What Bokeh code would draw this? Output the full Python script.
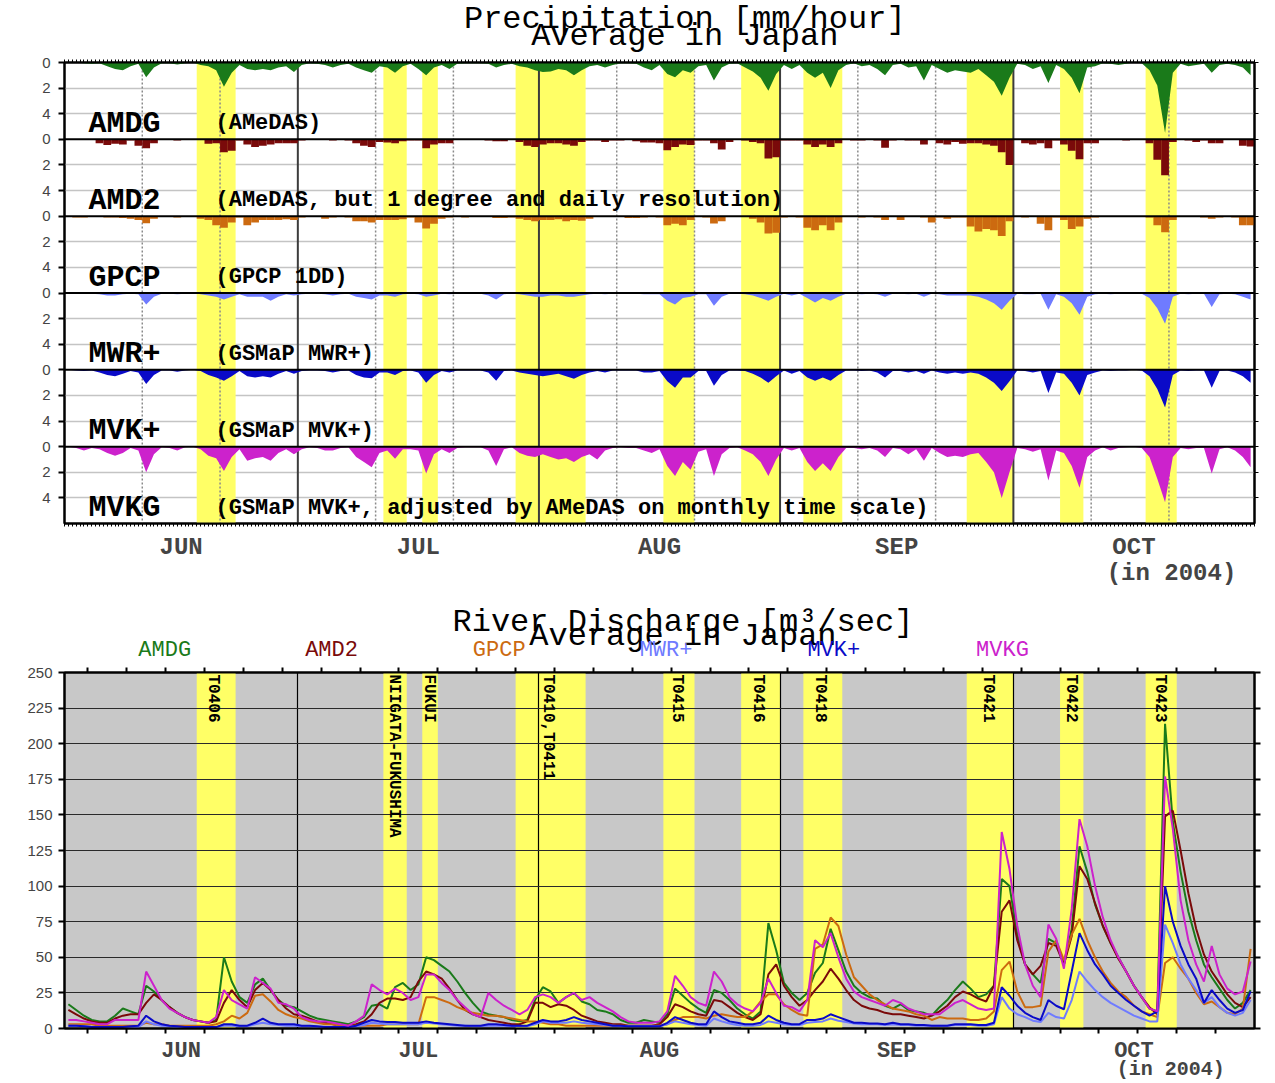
import numpy as np
from bokeh.plotting import figure
from bokeh.models import Range1d, FixedTicker, LinearAxis, Span, ColumnDataSource
from bokeh.layouts import column
from bokeh.embed import file_html
from bokeh.resources import INLINE
from bokeh.core.properties import value

# ------------------------------------------------------------------ data
n_days = 153  # 1 Jun .. 31 Oct 2004, day index 0 = 1 Jun
month_names = ["JUN", "JUL", "AUG", "SEP", "OCT"]
month_mid = [15, 45.5, 76.5, 107, 137.5]
month_start = [30, 61, 92, 122]
dekad_days = [10, 20, 40, 50, 71, 81, 102, 112, 132, 142]
pentad_ticks = list(range(3, 153, 5))
year_label = "(in 2004)"

event_names = ["T0406", "NIIGATA-FUKUSHIMA", "FUKUI", "T0410,T0411", "T0415",
               "T0416", "T0418", "T0421", "T0422", "T0423"]
event_start = [17, 41, 46, 58, 77, 87, 95, 116, 128, 139]
event_end = [22, 44, 48, 67, 81, 92, 100, 122, 131, 143]
event_label_day = [19.1, 42.3, 46.8, 62.1, 78.8, 89.1, 97.1, 118.7, 129.4, 140.8]

series_names = ["AMDG", "AMD2", "GPCP", "MWR+", "MVK+", "MVKG"]
series_desc = ["(AMeDAS)",
               "(AMeDAS, but 1 degree and daily resolution)",
               "(GPCP 1DD)",
               "(GSMaP MWR+)",
               "(GSMaP MVK+)",
               "(GSMaP MVK+, adjusted by AMeDAS on monthly time scale)"]
series_colors = ["#1A7A1A", "#7A0A0A", "#CC6A10", "#6F7BFF", "#0A0AC8", "#CC22CC"]

# precipitation [mm/hour], daily
prec_amdg = [
    0, 0, 0.05, 0.1, 0.05, 0.3, 0.5, 0.6, 0.3, 0.1,
    1.15, 0.4, 0.05, 0.05, 0.15, 0.05, 0, 0.2, 0.3, 0.6,
    1.9, 0.8, 0.2, 0.5, 0.6, 0.5, 0.6, 0.4, 0.3, 0.75,
    0.2, 0.05, 0.1, 0.2, 0.4, 0.2, 0.1, 0.4, 0.6, 0.8,
    0.3, 0.4, 0.8, 0.3, 0.1, 0.5, 1.0, 0.4, 0.2, 0.5,
    0.1, 0.05, 0.05, 0.05, 0.1, 0.4, 0.2, 0.1, 0.3, 0.4,
    0.6, 0.75, 0.7, 0.5, 0.6, 1.0, 0.6, 0.3, 0.2, 0.4,
    0.2, 0.05, 0.05, 0.1, 0.4, 0.6, 0.2, 0.9, 1.15, 0.6,
    0.8, 0.3, 0.2, 1.4, 0.4, 0.1, 0.05, 0.4, 0.7, 1.2,
    2.2, 0.9, 0.2, 0.5, 0.2, 0.8, 1.2, 0.8, 2.0, 0.6,
    0.2, 0.05, 0.3, 0.2, 0.5, 1.0, 0.2, 0.1, 0.4, 0.3,
    1.4, 0.2, 0.5, 0.8, 0.6, 0.7, 0.8, 0.5, 1.0, 1.5,
    2.6, 1.2, 0.1, 0.2, 0.5, 0.3, 1.6, 0.2, 0.5, 1.2,
    2.4, 0.4, 0.3, 0.05, 0.1, 0.2, 0.1, 0, 0.05, 0.6,
    1.8, 5.5, 0.8, 0.1, 0.3, 0.2, 0.1, 0.8, 0.2, 0.1,
    0.2, 0.4, 1.0]
prec_amd2 = [
    0, 0.05, 0.05, 0.05, 0.3, 0.45, 0.35, 0.4, 0.1, 0.5,
    0.7, 0.3, 0.05, 0.05, 0.1, 0.05, 0, 0.05, 0.35, 0.3,
    1.0, 0.9, 0.1, 0.4, 0.6, 0.5, 0.4, 0.3, 0.3, 0.3,
    0.1, 0.05, 0.05, 0.05, 0.1, 0.05, 0.1, 0.3, 0.5, 0.6,
    0.2, 0.25, 0.3, 0.15, 0.1, 0.1, 0.7, 0.4, 0.3, 0.3,
    0.05, 0, 0.05, 0.05, 0.1, 0.15, 0.15, 0.05, 0.2, 0.5,
    0.6, 0.4, 0.3, 0.3, 0.4, 0.5, 0.2, 0.1, 0.1, 0.2,
    0.1, 0.1, 0.05, 0.15, 0.25, 0.25, 0.3, 0.85, 0.6, 0.4,
    0.45, 0.1, 0.1, 0.3, 0.8, 0.2, 0.05, 0.1, 0.2, 0.3,
    1.5, 1.4, 0.1, 0.1, 0.1, 0.4, 0.6, 0.4, 0.6, 0.3,
    0.05, 0.1, 0.1, 0.05, 0.1, 0.65, 0.1, 0.05, 0.1, 0.1,
    0.4, 0.05, 0.3, 0.4, 0.2, 0.35, 0.3, 0.3, 0.4, 0.5,
    1.0, 2.0, 0.05, 0.3, 0.4, 0.3, 0.7, 0.1, 0.4, 0.9,
    1.55, 0.3, 0.3, 0.05, 0.05, 0.05, 0.1, 0, 0.05, 0.3,
    1.6, 2.8, 0.2, 0.05, 0.1, 0.2, 0.1, 0.3, 0.3, 0.05,
    0.05, 0.5, 0.55]
prec_gpcp = [
    0, 0.1, 0.1, 0.05, 0.05, 0.1, 0.1, 0.15, 0.2, 0.3,
    0.55, 0.2, 0.05, 0, 0.1, 0.05, 0, 0.2, 0.3, 0.7,
    0.9, 0.5, 0.1, 0.7, 0.5, 0.3, 0.3, 0.3, 0.25, 0.3,
    0.1, 0.05, 0.05, 0.2, 0.1, 0.05, 0.1, 0.4, 0.4, 0.5,
    0.3, 0.3, 0.3, 0.25, 0.1, 0.5, 0.96, 0.6, 0.2, 0.1,
    0.05, 0.1, 0.05, 0.05, 0.05, 0.15, 0.15, 0.1, 0.2, 0.3,
    0.4, 0.3, 0.3, 0.25, 0.4, 0.3, 0.35, 0.2, 0.05, 0.05,
    0.05, 0.05, 0.15, 0.15, 0.1, 0.05, 0.1, 0.7, 0.6, 0.7,
    0.3, 0.05, 0.1, 0.57, 0.4, 0.05, 0.05, 0.05, 0.2, 0.5,
    1.35, 1.3, 0.1, 0.05, 0.1, 0.9, 1.1, 0.7, 1.1, 0.5,
    0.05, 0.05, 0.1, 0.05, 0.1, 0.3, 0.05, 0.3, 0.05, 0.05,
    0.1, 0.5, 0.1, 0.2, 0.1, 0.1, 0.8, 1.2, 1.0, 1.1,
    1.55, 0.4, 0.05, 0.1, 0.05, 0.6, 1.1, 0.1, 0.3, 1.0,
    0.8, 0.2, 0.1, 0.05, 0, 0, 0.05, 0, 0.05, 0.1,
    0.7, 1.25, 0.3, 0.05, 0.05, 0.05, 0.1, 0.2, 0.1, 0.05,
    0.1, 0.7, 0.7]
prec_mwr = [
    0, 0.05, 0.05, 0.05, 0.1, 0.2, 0.2, 0.1, 0.05, 0.1,
    0.9, 0.3, 0.05, 0.05, 0.1, 0.05, 0, 0.1, 0.2, 0.3,
    0.5, 0.3, 0.1, 0.3, 0.3, 0.3, 0.6, 0.3, 0.1, 0.2,
    0.1, 0.05, 0.05, 0.1, 0.2, 0.1, 0.05, 0.3, 0.4, 0.5,
    0.2, 0.2, 0.3, 0.1, 0.05, 0.1, 0.3, 0.2, 0.05, 0.1,
    0.05, 0.05, 0.05, 0.05, 0.2, 0.5, 0.1, 0.05, 0.1, 0.2,
    0.3, 0.3, 0.2, 0.2, 0.3, 0.3, 0.2, 0.1, 0.05, 0.1,
    0.05, 0.05, 0.05, 0.05, 0.1, 0.1, 0.1, 0.6, 0.9, 0.4,
    0.3, 0.1, 0.1, 1.0, 0.3, 0.05, 0.05, 0.1, 0.2, 0.4,
    0.6, 0.3, 0.05, 0.2, 0.05, 0.4, 0.75, 0.4, 0.6, 0.3,
    0.05, 0.05, 0.1, 0.05, 0.1, 0.3, 0.05, 0.05, 0.1, 0.05,
    0.3, 0.05, 0.1, 0.2, 0.2, 0.2, 0.2, 0.3, 0.5, 0.8,
    1.3, 0.6, 0.05, 0.1, 0.1, 0.05, 1.3, 0.1, 0.3, 0.8,
    1.7, 0.3, 0.1, 0.05, 0.1, 0.05, 0.05, 0, 0.05, 0.4,
    1.2, 2.4, 0.3, 0.05, 0.1, 0.05, 0.05, 1.1, 0.1, 0.05,
    0.1, 0.3, 0.5]
prec_mvk = [
    0, 0.05, 0.1, 0.05, 0.2, 0.4, 0.5, 0.3, 0.1, 0.2,
    1.1, 0.4, 0.05, 0.05, 0.15, 0.05, 0, 0.1, 0.4, 0.6,
    0.85, 0.5, 0.1, 0.5, 0.6, 0.5, 0.6, 0.3, 0.1, 0.3,
    0.1, 0.05, 0.05, 0.1, 0.2, 0.1, 0.05, 0.4, 0.6, 0.65,
    0.2, 0.2, 0.4, 0.1, 0.05, 0.2, 1.0, 0.4, 0.1, 0.2,
    0.05, 0.05, 0.05, 0.05, 0.2, 0.85, 0.1, 0.05, 0.2, 0.3,
    0.4, 0.5, 0.4, 0.3, 0.5, 0.7, 0.4, 0.2, 0.1, 0.2,
    0.05, 0.05, 0.05, 0.05, 0.2, 0.2, 0.1, 0.9, 1.4, 0.6,
    0.6, 0.1, 0.1, 1.25, 0.4, 0.05, 0.05, 0.1, 0.3, 0.6,
    1.0, 0.5, 0.05, 0.3, 0.1, 0.6, 0.85, 0.6, 0.85, 0.4,
    0.05, 0.05, 0.1, 0.05, 0.2, 0.6, 0.1, 0.1, 0.2, 0.1,
    0.3, 0.05, 0.2, 0.3, 0.2, 0.3, 0.2, 0.3, 0.6, 1.0,
    1.65, 0.9, 0.05, 0.1, 0.2, 0.1, 1.8, 0.2, 0.3, 1.0,
    2.0, 0.4, 0.2, 0.05, 0.1, 0.05, 0.05, 0, 0.05, 0.5,
    1.5, 2.95, 0.4, 0.05, 0.1, 0.05, 0.05, 1.4, 0.1, 0.05,
    0.2, 0.5, 1.0]
prec_mvkg = [
    0, 0.1, 0.3, 0.1, 0.2, 0.5, 0.7, 0.5, 0.1, 0.3,
    2.0, 0.6, 0.05, 0.1, 0.3, 0.05, 0, 0.2, 0.7, 0.9,
    1.9, 0.8, 0.2, 1.1, 0.9, 0.8, 1.1, 0.5, 0.2, 0.6,
    0.2, 0.05, 0.1, 0.3, 0.3, 0.1, 0.05, 0.8, 1.2, 1.6,
    0.5, 0.3, 0.95, 0.2, 0.2, 0.3, 2.1, 0.6, 0.2, 0.5,
    0.1, 0.05, 0.05, 0.05, 0.3, 1.5, 0.2, 0.05, 0.5, 0.7,
    0.8, 0.6, 0.8, 1.0, 0.9, 1.2, 0.8, 0.6, 1.0, 0.3,
    0.1, 0.05, 0.1, 0.1, 0.3, 0.5, 0.2, 1.5, 2.3, 1.2,
    1.8, 0.4, 0.2, 2.3, 0.6, 0.1, 0.05, 0.3, 0.6, 1.2,
    2.3, 1.0, 0.1, 0.3, 0.1, 1.2, 1.9, 1.3, 1.9, 0.8,
    0.1, 0.1, 0.2, 0.1, 0.3, 0.8, 0.1, 0.2, 0.6, 0.2,
    1.1, 0.1, 0.5, 0.8, 0.7, 0.8, 0.6, 0.5, 1.2, 2.0,
    4.0, 2.0, 0.1, 0.2, 0.4, 0.2, 2.65, 0.3, 0.5, 1.5,
    3.2, 0.8, 0.3, 0.05, 0.3, 0.1, 0.05, 0, 0.1, 0.8,
    2.5, 4.35, 0.8, 0.1, 0.2, 0.1, 0.1, 2.1, 0.2, 0.05,
    0.3, 0.8, 1.6]

# river discharge [m3/sec], daily
discharge_ticks = list(range(0, 251, 25))
q_amdg = [
    17, 13, 9, 6, 5, 5, 9, 14, 12, 10,
    30, 26, 20, 15, 11, 8, 6, 5, 4, 6,
    50, 33, 22, 18, 31, 35, 27, 20, 16, 15,
    12, 9, 7, 6, 5, 4, 3, 5, 8, 16,
    17, 14, 29, 32, 27, 31, 50, 48, 44, 40,
    33, 25, 18, 12, 10, 9, 8, 6, 5, 6,
    20, 29, 26, 18, 22, 25, 19, 17, 13, 12,
    10, 6, 4, 4, 6, 5, 4, 10, 28, 23,
    18, 14, 11, 27, 25, 20, 14, 10, 7, 12,
    74, 55, 32, 25, 20, 25, 39, 46, 70, 55,
    40, 30, 25, 22, 21, 16, 14, 17, 13, 12,
    11, 9, 15, 20, 27, 33, 28, 22, 24, 30,
    105, 100, 66, 45, 38, 32, 63, 60, 45, 70,
    128, 110, 87, 72, 60, 50, 40, 30, 22, 14,
    12, 214, 145, 110, 82, 62, 45, 36, 28, 20,
    14, 18, 27]
q_amd2 = [
    13, 10, 7, 5, 4, 4, 7, 9, 10, 10,
    18, 24, 20, 15, 11, 8, 6, 5, 4, 5,
    18, 27, 20, 15, 27, 32, 27, 20, 14, 10,
    9, 7, 5, 4, 3, 2, 2, 3, 5, 10,
    18, 21, 21, 20, 22, 33, 40, 38, 35, 28,
    20, 13, 10, 8, 6, 5, 4, 3, 3, 5,
    18, 18, 15, 17, 16, 13, 9, 7, 5, 4,
    3, 3, 2, 2, 2, 2, 3, 8, 17, 15,
    12, 10, 9, 20, 19, 15, 11, 8, 6, 10,
    38, 45, 30, 22, 16, 20, 27, 33, 42, 35,
    27, 20, 16, 14, 13, 11, 10, 10, 9, 8,
    7, 9, 12, 16, 22, 26, 24, 21, 19, 30,
    82, 90, 62, 45, 38, 44, 60, 58, 45, 65,
    114, 105, 88, 72, 60, 49, 40, 30, 22, 15,
    10, 149, 153, 125, 95, 70, 52, 40, 32, 24,
    18, 15, 22]
q_gpcp = [
    3, 3, 3, 3, 2, 2, 2, 2, 2, 2,
    4, 3, 3, 2, 2, 2, 2, 2, 2, 3,
    5, 9, 7, 11, 23, 24, 19, 13, 10, 8,
    7, 5, 4, 3, 3, 2, 2, 2, 2, 2,
    2, 3, 3, 3, 3, 3, 22, 22, 20, 18,
    15, 13, 11, 10, 9, 9, 8, 7, 6, 5,
    5, 4, 3, 3, 2, 2, 2, 2, 2, 2,
    2, 2, 2, 2, 2, 2, 2, 3, 6, 8,
    8, 8, 7, 9, 10, 9, 8, 8, 12, 19,
    24, 24, 17, 13, 10, 9, 56, 59, 78, 72,
    52, 36, 30, 24, 20, 17, 14, 13, 12, 10,
    9, 6, 8, 7, 7, 7, 6, 6, 7, 12,
    41, 47, 26, 15, 15, 16, 54, 62, 48, 66,
    77, 62, 50, 40, 32, 26, 22, 16, 12, 10,
    8, 46, 50, 42, 35, 25, 17, 19, 15, 11,
    10, 14, 56]
q_mwr = [
    2, 2, 1.5, 1, 1, 1, 1, 1, 1, 1,
    5, 3, 2, 1.5, 1, 1, 1, 1, 1, 1,
    2, 2, 1.5, 1.5, 3, 4, 3, 2.5, 2, 2,
    1.5, 1.5, 1, 1, 1, 1, 1, 1.5, 2.5, 4,
    3.5, 3, 3, 3, 3, 3, 4, 3.5, 3, 2.5,
    2, 2, 1.5, 1.5, 2, 2, 2, 1.5, 1.5, 1.5,
    3, 5, 4, 4, 4, 5, 4, 3.5, 3, 2.5,
    2, 1.5, 1.5, 1.5, 1.5, 1.5, 1.5, 3, 5, 4,
    3, 2.5, 2, 7, 5, 3.5, 2.5, 2, 2, 2.5,
    5, 4, 3, 2.5, 2.5, 4, 4.5, 5, 7, 5.5,
    4.5, 3.5, 3, 3, 3, 2.5, 3, 2.5, 2.5, 2,
    2, 2, 2, 2, 2.5, 2.5, 2.5, 2, 2, 3,
    22, 14, 10, 8, 5.5, 4.5, 11, 8, 7, 20,
    40, 33, 27, 22, 18, 15, 12, 9, 7, 5,
    5, 73, 60, 45, 35, 27, 18, 22, 15, 11,
    9, 11, 20]
q_mvk = [
    2, 2, 1.5, 1, 1, 1, 1, 1, 1.5, 2,
    9, 5, 3, 2, 1.5, 1, 1, 1, 1, 1,
    3, 3, 2, 2, 4, 7, 4, 3, 3, 3,
    2, 2, 1.5, 1, 1, 1, 1, 2, 4, 6,
    5, 4.5, 4.5, 4, 4, 4, 5, 4, 3.5, 3,
    2.5, 2, 2, 2, 3, 3, 2.5, 2, 2, 2,
    4, 6, 5, 5, 6, 8, 6, 5, 4, 3,
    2, 2, 1.5, 1.5, 1.5, 1.5, 1.5, 4, 8, 6,
    4, 3, 3, 12, 8, 5, 4, 3, 3, 4,
    9, 6, 4, 3, 3, 6, 6, 7, 10, 8,
    6, 4, 4, 3.5, 3.5, 3, 4, 3, 3, 2.5,
    2.5, 2, 2, 2, 3, 3, 3, 2.5, 2.5, 4,
    29, 23, 16, 11, 8, 6, 20, 16, 13.5, 40,
    67, 55, 45, 38, 30, 25, 20, 16, 12, 9,
    12, 100, 75, 58, 45, 35, 18, 27, 20, 14,
    11, 13, 26]
q_mvkg = [
    6, 6, 5, 4, 3, 3, 6, 6, 6, 6,
    40, 30, 20, 14, 11, 8, 6, 5, 4, 8,
    27, 20, 17, 14, 36, 32, 28, 18, 17, 14,
    8, 6, 5, 5, 4, 3, 2, 5, 9, 31,
    27, 24, 28, 25, 20, 22, 38, 38, 32, 27,
    20, 15, 10, 8, 25, 20, 16, 13, 10, 13,
    22, 24, 22, 18, 22, 25, 20, 22, 18, 15,
    12, 8, 5, 4, 4, 4, 5, 12, 37, 30,
    22, 18, 16, 40, 33, 22, 17, 14, 12, 18,
    35, 25, 16, 15, 12, 20, 62, 57, 67, 50,
    35, 26, 22, 20, 18, 16, 20, 18, 14, 12,
    10, 10, 10, 14, 18, 20, 17, 14, 13, 14,
    138, 112, 72, 45, 30, 22, 73, 63, 42, 84,
    147, 128, 100, 78, 62, 50, 40, 30, 22, 14,
    12, 177, 140, 90, 62, 45, 33, 58, 38, 28,
    24, 26, 47]

prec_series = [prec_amdg, prec_amd2, prec_gpcp, prec_mwr, prec_mvk, prec_mvkg]
prec_as_bars = [False, True, True, False, False, False]
q_series = [q_amdg, q_amd2, q_gpcp, q_mwr, q_mvk, q_mvkg]

# ------------------------------------------------------------------ layout constants
W = 1270
MONO = "Liberation Mono"
SANS = "Liberation Sans"
YELLOW = "#FFFF66"
PANEL = 6.0          # y-units per precipitation panel (0..6 mm/h)
NP = len(series_names)

x_mid = np.arange(n_days) + 0.5
half_days = [i * 0.5 for i in range(0, 2 * n_days + 1)]


def text_strip(height, items):
    """A figure whose whole area is a frame in pixel units, for texts outside the charts."""
    f = figure(width=W, height=height, x_range=Range1d(0, W), y_range=Range1d(height, 0),
               output_backend="svg", toolbar_location=None, x_axis_type=None, y_axis_type=None,
               min_border=0, min_border_left=0, min_border_right=0, min_border_top=0,
               min_border_bottom=0, background_fill_color="white", border_fill_color="white")
    f.outline_line_color = None
    f.xgrid.visible = False
    f.ygrid.visible = False
    for (txt, x, y, size, style, color, align) in items:
        f.text(x=[x], y=[y], text=[txt], text_font=value(MONO), text_font_size=size,
               text_font_style=style, text_color=color, text_align=align,
               text_baseline="middle")
    return f


# ================================================================== header of top chart
head1 = text_strip(54, [
    ("Precipitation [mm/hour]", 662, 19, "32px", "normal", "black", "center"),
    ("Average in Japan", 662, 36, "32px", "normal", "black", "center"),
])

# ================================================================== TOP: precipitation
p1 = figure(width=W, height=536, x_range=Range1d(0, n_days), y_range=Range1d(PANEL * NP, 0),
            output_backend="svg", toolbar_location=None,
            min_border_left=64, min_border_right=16, min_border_top=8, min_border_bottom=67,
            background_fill_color="white", border_fill_color="white")
p1.outline_line_color = "black"
p1.outline_line_width = 2

p1.quad(left=event_start, right=event_end, bottom=0, top=PANEL * NP,
        fill_color=YELLOW, line_color=None)
p1.segment(x0=dekad_days, x1=dekad_days, y0=0, y1=PANEL * NP,
           line_color="#8A8A8A", line_width=1.5, line_dash="2 2")
p1.segment(x0=month_start, x1=month_start, y0=0, y1=PANEL * NP,
           line_color="#3C3C3C", line_width=2)

for k, (vals, color, as_bar) in enumerate(zip(prec_series, series_colors, prec_as_bars)):
    base = k * PANEL
    v = np.array(vals, dtype=float)
    if as_bar:
        p1.vbar(x=x_mid, width=1.0, top=base, bottom=base + v,
                fill_color=color, line_color=None)
    else:
        p1.varea(x=x_mid, y1=np.full(n_days, base), y2=base + v, fill_color=color)

for k in range(1, NP):
    p1.add_layout(Span(location=k * PANEL, dimension="width",
                       line_color="black", line_width=2))

# panel names inside the frame
lab_src = ColumnDataSource(dict(
    x=[(88 - 64) / (1190 / n_days)] * NP,
    xd=[(215 - 64) / (1190 / n_days)] * NP,
    y=[k * PANEL + 4.8 for k in range(NP)],
    name=series_names, desc=series_desc))
p1.text(x="x", y="y", text="name", source=lab_src, text_font=value(MONO),
        text_font_style="bold", text_font_size="30px", text_baseline="middle",
        text_color="black")
p1.text(x="xd", y="y", text="desc", source=lab_src, text_font=value(MONO),
        text_font_style="bold", text_font_size="22px", text_baseline="middle",
        text_color="black")

# grid
p1.xgrid.visible = False
p1.ygrid.ticker = FixedTicker(ticks=[k * PANEL + j for k in range(NP) for j in (2, 4)])
p1.ygrid.grid_line_color = "#C4C4C4"
p1.ygrid.grid_line_width = 1.5

# axes
ytick_vals = [k * PANEL + j for k in range(NP) for j in (0, 2, 4)]
ya = p1.yaxis[0]
ya.ticker = FixedTicker(ticks=ytick_vals)
ya.major_label_overrides = {t: str(int(t % PANEL)) for t in ytick_vals}
ya.major_label_text_font = SANS
ya.major_label_text_font_size = "15px"
ya.major_label_standoff = 8
ya.major_tick_out = 6
ya.major_tick_in = 0
ya.minor_tick_line_color = None
ya.axis_line_width = 2
ya.major_tick_line_width = 2

xa = p1.xaxis[0]
xa.ticker = FixedTicker(ticks=month_mid, minor_ticks=half_days)
xa.major_label_overrides = {m: n for m, n in zip(month_mid, month_names)}
xa.major_tick_line_color = None
xa.major_tick_out = 0
xa.major_tick_in = 0
xa.minor_tick_out = 3
xa.minor_tick_in = 0
xa.major_label_standoff = 7
xa.major_label_text_font = MONO
xa.major_label_text_font_style = "bold"
xa.major_label_text_font_size = "24px"
xa.axis_line_width = 2

year_day1 = (1171 - 64) / (1190 / n_days)
p1.add_layout(LinearAxis(ticker=FixedTicker(ticks=[year_day1]),
                         major_label_overrides={year_day1: year_label},
                         major_label_text_font=MONO, major_label_text_font_style="bold",
                         major_label_text_font_size="24px", major_label_standoff=-4,
                         major_tick_line_color=None, major_tick_out=0, major_tick_in=0,
                         minor_tick_line_color=None, axis_line_color=None), "below")
p1.add_layout(LinearAxis(ticker=FixedTicker(ticks=ytick_vals), major_label_text_font_size="0px",
                         major_label_text_color=None,
                         major_label_standoff=0, major_tick_out=4, major_tick_in=0,
                         minor_tick_line_color=None, axis_line_width=2), "right")
p1.add_layout(LinearAxis(ticker=FixedTicker(ticks=[], minor_ticks=half_days),
                         major_label_text_font_size="0px", major_label_text_color=None,
                         major_label_standoff=0,
                         major_tick_line_color=None, minor_tick_out=3, minor_tick_in=0,
                         axis_line_width=2), "above")

# ================================================================== header of bottom chart
legend_centers = [107, 285, 464, 642, 821, 1001]
head2_items = [
    ("River Discharge [m\u00b3/sec]", 660, 32, "32px", "normal", "black", "center"),
    ("Average in Japan", 660, 46, "32px", "normal", "black", "center"),
]
for name, color, xc in zip(series_names, series_colors, legend_centers):
    head2_items.append((name, xc, 60, "22px", "normal", color, "center"))
head2 = text_strip(73, head2_items)

# ================================================================== BOTTOM: discharge
p2 = figure(width=W, height=420, x_range=Range1d(0, n_days), y_range=Range1d(0, 250),
            output_backend="svg", toolbar_location=None,
            min_border_left=62, min_border_right=15, min_border_top=9, min_border_bottom=52,
            background_fill_color="#C8C8C8", border_fill_color="white")
p2.outline_line_color = "black"
p2.outline_line_width = 2

p2.quad(left=event_start, right=event_end, bottom=0, top=250,
        fill_color=YELLOW, line_color=None, level="image")

p2.xgrid.ticker = FixedTicker(ticks=month_start)
p2.xgrid.grid_line_color = "black"
p2.xgrid.grid_line_width = 1.2
p2.ygrid.ticker = FixedTicker(ticks=discharge_ticks)
p2.ygrid.grid_line_color = "#2A2A2A"
p2.ygrid.grid_line_width = 1.2

for vals, color in zip(q_series, series_colors):
    p2.line(x=x_mid, y=vals, line_color=color, line_width=2)

ev_src = ColumnDataSource(dict(x=event_label_day, y=[248.6] * len(event_names),
                               text=event_names))
p2.text(x="x", y="y", text="text", source=ev_src, angle=-np.pi / 2,
        text_font=value(MONO), text_font_style="bold", text_font_size="16px",
        text_align="left", text_baseline="middle", text_color="black")

ya2 = p2.yaxis[0]
ya2.ticker = FixedTicker(ticks=discharge_ticks)
ya2.major_label_text_font = SANS
ya2.major_label_text_font_size = "15px"
ya2.major_label_standoff = 6
ya2.major_tick_out = 6
ya2.major_tick_in = 0
ya2.minor_tick_line_color = None
ya2.axis_line_width = 2
ya2.major_tick_line_width = 2

xa2 = p2.xaxis[0]
xa2.ticker = FixedTicker(ticks=month_mid, minor_ticks=pentad_ticks)
xa2.major_label_overrides = {m: n for m, n in zip(month_mid, month_names)}
xa2.major_tick_line_color = None
xa2.major_tick_out = 0
xa2.major_tick_in = 0
xa2.minor_tick_out = 5
xa2.minor_tick_in = 0
xa2.minor_tick_line_width = 2
xa2.major_label_standoff = 5
xa2.major_label_text_font = MONO
xa2.major_label_text_font_style = "bold"
xa2.major_label_text_font_size = "22px"
xa2.axis_line_width = 2

year_day2 = (1171 - 62) / (1193 / n_days)
p2.add_layout(LinearAxis(ticker=FixedTicker(ticks=[year_day2]),
                         major_label_overrides={year_day2: year_label},
                         major_label_text_font=MONO, major_label_text_font_style="bold",
                         major_label_text_font_size="20px", major_label_standoff=-9,
                         major_tick_line_color=None, major_tick_out=0, major_tick_in=0,
                         minor_tick_line_color=None, axis_line_color=None), "below")
p2.add_layout(LinearAxis(ticker=FixedTicker(ticks=discharge_ticks), major_label_text_font_size="0px",
                         major_label_text_color=None,
                         major_label_standoff=0, major_tick_out=6, major_tick_in=0,
                         major_tick_line_width=2, minor_tick_line_color=None,
                         axis_line_width=2), "right")
p2.add_layout(LinearAxis(ticker=FixedTicker(ticks=[], minor_ticks=pentad_ticks),
                         major_label_text_font_size="0px", major_label_text_color=None,
                         major_label_standoff=0,
                         major_tick_line_color=None, minor_tick_out=5, minor_tick_in=0,
                         minor_tick_line_width=2, axis_line_width=2), "above")

layout = column(head1, p1, head2, p2)
open("out.html", "w").write(file_html(layout, INLINE))
